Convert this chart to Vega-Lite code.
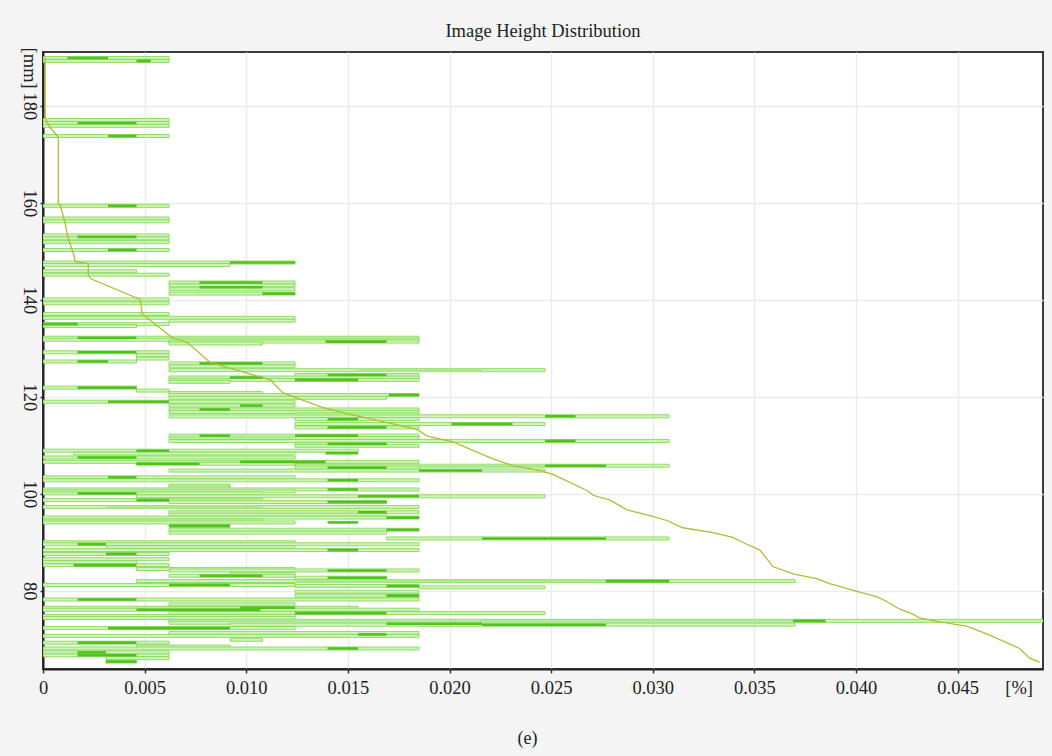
{
  "$schema": "https://vega.github.io/schema/vega-lite/v6.json",
  "width": 1000,
  "height": 617,
  "autosize": {"type": "none"},
  "padding": {"left": 43, "top": 52, "right": 9, "bottom": 87},
  "background": "#f4f4f4",
  "title": {"text": "Image Height Distribution", "font": "Liberation Serif", "fontSize": 18.5, "fontWeight": "normal", "color": "#222222", "offset": 7, "anchor": "middle"},
  "config": {
    "view": {"stroke": "#3a3a3a", "strokeWidth": 2, "fill": "white"},
    "axis": {
      "labelFont": "Liberation Serif", "labelFontSize": 18.5, "labelColor": "#222222",
      "titleFont": "Liberation Serif", "titleFontSize": 18, "titleFontWeight": "normal", "titleColor": "#222222",
      "domainColor": "#222222", "domainWidth": 2,
      "tickColor": "#333333", "tickSize": 4, "tickWidth": 1.5,
      "gridColor": "#ebebeb", "gridWidth": 1.5
    }
  },
  "datasets": {
    "segs": [
      {"h":189.9,"a":0,"b":0.0062,"t":"l"},{"h":189.3,"a":0,"b":0.0062,"t":"l"},
      {"h":177.1,"a":0,"b":0.0062,"t":"l"},{"h":176.5,"a":0,"b":0.0062,"t":"l"},
      {"h":175.9,"a":0,"b":0.0062,"t":"l"},{"h":173.8,"a":0,"b":0.0062,"t":"l"},
      {"h":159.4,"a":0,"b":0.0062,"t":"l"},{"h":156.8,"a":0,"b":0.0062,"t":"l"},
      {"h":156.2,"a":0,"b":0.0062,"t":"l"},{"h":153.3,"a":0,"b":0.0062,"t":"l"},
      {"h":152.7,"a":0,"b":0.0062,"t":"l"},{"h":151.9,"a":0,"b":0.0062,"t":"l"},
      {"h":150.3,"a":0,"b":0.0062,"t":"l"},{"h":147.7,"a":0,"b":0.0124,"t":"l"},
      {"h":147.2,"a":0,"b":0.0092,"t":"l"},{"h":145.9,"a":0,"b":0.0046,"t":"l"},
      {"h":145.2,"a":0,"b":0.0062,"t":"l"},{"h":143.6,"a":0.0062,"b":0.0124,"t":"l"},
      {"h":143.0,"a":0.0062,"b":0.0124,"t":"l"},{"h":142.2,"a":0.0062,"b":0.0124,"t":"l"},
      {"h":141.3,"a":0.0062,"b":0.0124,"t":"l"},{"h":140.1,"a":0,"b":0.0062,"t":"l"},
      {"h":139.3,"a":0,"b":0.0062,"t":"l"},{"h":137.1,"a":0,"b":0.0062,"t":"l"},
      {"h":136.3,"a":0,"b":0.0124,"t":"l"},{"h":135.7,"a":0.0062,"b":0.0124,"t":"l"},
      {"h":135.0,"a":0,"b":0.0062,"t":"l"},{"h":134.6,"a":0,"b":0.0046,"t":"l"},
      {"h":132.2,"a":0,"b":0.0185,"t":"l"},{"h":131.8,"a":0,"b":0.0185,"t":"l"},
      {"h":131.4,"a":0.0062,"b":0.0185,"t":"l"},{"h":131.0,"a":0.0062,"b":0.0108,"t":"l"},
      {"h":129.2,"a":0,"b":0.0062,"t":"l"},{"h":128.6,"a":0.0046,"b":0.0062,"t":"l"},
      {"h":127.9,"a":0.0046,"b":0.0062,"t":"l"},{"h":127.3,"a":0,"b":0.0046,"t":"l"},
      {"h":126.9,"a":0.0062,"b":0.0124,"t":"l"},{"h":126.3,"a":0.0062,"b":0.0124,"t":"l"},
      {"h":125.5,"a":0.0062,"b":0.0247,"t":"l"},{"h":124.5,"a":0.0124,"b":0.0185,"t":"l"},
      {"h":124.0,"a":0.0062,"b":0.0185,"t":"l"},{"h":123.5,"a":0.0062,"b":0.0185,"t":"l"},
      {"h":123.1,"a":0.0062,"b":0.0092,"t":"l"},{"h":121.9,"a":0,"b":0.0046,"t":"l"},
      {"h":121.3,"a":0.0046,"b":0.0062,"t":"l"},{"h":120.8,"a":0.0062,"b":0.0108,"t":"l"},
      {"h":120.4,"a":0.0062,"b":0.0185,"t":"l"},{"h":119.8,"a":0.0062,"b":0.0169,"t":"l"},
      {"h":119.0,"a":0,"b":0.0124,"t":"l"},{"h":118.2,"a":0.0062,"b":0.0124,"t":"l"},
      {"h":117.4,"a":0.0062,"b":0.0185,"t":"l"},{"h":116.9,"a":0.0062,"b":0.0185,"t":"l"},
      {"h":116.4,"a":0.0124,"b":0.0185,"t":"l"},{"h":116.0,"a":0.0062,"b":0.0308,"t":"l"},
      {"h":115.4,"a":0.0124,"b":0.0185,"t":"l"},{"h":114.4,"a":0.0124,"b":0.0247,"t":"l"},
      {"h":113.7,"a":0.0124,"b":0.0185,"t":"l"},{"h":112.0,"a":0.0062,"b":0.0185,"t":"l"},
      {"h":111.5,"a":0.0062,"b":0.0185,"t":"l"},{"h":110.9,"a":0.0062,"b":0.0308,"t":"l"},
      {"h":110.3,"a":0.0124,"b":0.0169,"t":"l"},{"h":109.9,"a":0.0124,"b":0.0185,"t":"l"},
      {"h":108.9,"a":0,"b":0.0155,"t":"l"},{"h":108.3,"a":0.0015,"b":0.0124,"t":"l"},
      {"h":107.5,"a":0,"b":0.0124,"t":"l"},{"h":106.6,"a":0,"b":0.0185,"t":"l"},
      {"h":106.2,"a":0.0046,"b":0.0124,"t":"l"},{"h":105.8,"a":0.0124,"b":0.0308,"t":"l"},
      {"h":105.4,"a":0.0124,"b":0.0185,"t":"l"},{"h":104.8,"a":0.0062,"b":0.0247,"t":"l"},
      {"h":103.4,"a":0,"b":0.0124,"t":"l"},{"h":102.8,"a":0,"b":0.0185,"t":"l"},
      {"h":101.7,"a":0.0062,"b":0.0092,"t":"l"},{"h":101.3,"a":0.0062,"b":0.0092,"t":"l"},
      {"h":100.9,"a":0,"b":0.0185,"t":"l"},{"h":100.5,"a":0,"b":0.0124,"t":"l"},
      {"h":100.1,"a":0,"b":0.0108,"t":"l"},{"h":99.5,"a":0.0046,"b":0.0247,"t":"l"},
      {"h":98.7,"a":0,"b":0.0108,"t":"l"},{"h":98.3,"a":0.0062,"b":0.0169,"t":"l"},
      {"h":97.3,"a":0,"b":0.0185,"t":"l"},{"h":96.2,"a":0.0062,"b":0.0185,"t":"l"},
      {"h":95.7,"a":0.0062,"b":0.0169,"t":"l"},{"h":95.1,"a":0,"b":0.0185,"t":"l"},
      {"h":94.5,"a":0,"b":0.0108,"t":"l"},{"h":94.1,"a":0,"b":0.0124,"t":"l"},
      {"h":93.4,"a":0.0062,"b":0.0092,"t":"l"},{"h":92.6,"a":0.0062,"b":0.0185,"t":"l"},
      {"h":92.0,"a":0.0062,"b":0.0169,"t":"l"},{"h":90.8,"a":0.0169,"b":0.0308,"t":"l"},
      {"h":90.0,"a":0,"b":0.0124,"t":"l"},{"h":89.6,"a":0,"b":0.0185,"t":"l"},
      {"h":89.0,"a":0.0031,"b":0.0124,"t":"l"},{"h":88.4,"a":0,"b":0.0185,"t":"l"},
      {"h":87.6,"a":0,"b":0.0062,"t":"l"},{"h":86.5,"a":0,"b":0.0062,"t":"l"},
      {"h":85.9,"a":0,"b":0.0046,"t":"l"},{"h":85.3,"a":0,"b":0.0062,"t":"l"},
      {"h":84.5,"a":0.0046,"b":0.0124,"t":"l"},{"h":84.2,"a":0.0062,"b":0.0185,"t":"l"},
      {"h":83.5,"a":0.0092,"b":0.0124,"t":"l"},{"h":83.1,"a":0.0062,"b":0.0124,"t":"l"},
      {"h":82.7,"a":0.0124,"b":0.0169,"t":"l"},{"h":82.0,"a":0.0046,"b":0.037,"t":"l"},
      {"h":81.2,"a":0,"b":0.0124,"t":"l"},{"h":81.0,"a":0.0124,"b":0.0185,"t":"l"},
      {"h":80.7,"a":0.0185,"b":0.0247,"t":"l"},{"h":79.8,"a":0.0124,"b":0.0185,"t":"l"},
      {"h":79.0,"a":0.0124,"b":0.0185,"t":"l"},{"h":78.2,"a":0,"b":0.0185,"t":"l"},
      {"h":77.2,"a":0.0062,"b":0.0124,"t":"l"},{"h":76.5,"a":0,"b":0.0155,"t":"l"},
      {"h":76.1,"a":0,"b":0.0185,"t":"l"},{"h":75.4,"a":0.0062,"b":0.0247,"t":"l"},
      {"h":74.8,"a":0,"b":0.0124,"t":"l"},{"h":74.4,"a":0,"b":0.0124,"t":"l"},
      {"h":73.8,"a":0.0062,"b":0.0492,"t":"l"},{"h":73.4,"a":0.0062,"b":0.037,"t":"l"},
      {"h":73.0,"a":0.0092,"b":0.037,"t":"l"},{"h":72.3,"a":0,"b":0.0124,"t":"l"},
      {"h":71.3,"a":0.0062,"b":0.0185,"t":"l"},{"h":70.7,"a":0,"b":0.0185,"t":"l"},
      {"h":69.9,"a":0.0092,"b":0.0108,"t":"l"},{"h":69.3,"a":0,"b":0.0062,"t":"l"},
      {"h":68.5,"a":0.0046,"b":0.0092,"t":"l"},{"h":68.1,"a":0,"b":0.0185,"t":"l"},
      {"h":67.3,"a":0,"b":0.0062,"t":"l"},{"h":66.7,"a":0,"b":0.0062,"t":"l"},
      {"h":66.1,"a":0.0031,"b":0.0062,"t":"l"},{"h":65.4,"a":0.0031,"b":0.0046,"t":"l"},

      {"h":125.5,"a":0.0155,"b":0.0216,"t":"m"},{"h":116.4,"a":0.0124,"b":0.0185,"t":"m"},
      {"h":105.8,"a":0.0185,"b":0.0247,"t":"m"},{"h":97.3,"a":0.0031,"b":0.0108,"t":"m"},
      {"h":82.0,"a":0.0124,"b":0.0277,"t":"m"},{"h":73.5,"a":0.0124,"b":0.037,"t":"m"},
      {"h":111.7,"a":0.0062,"b":0.0124,"t":"m"},{"h":100.5,"a":0,"b":0.0077,"t":"m"},

      {"h":189.9,"a":0.0012,"b":0.0032,"t":"d"},{"h":189.3,"a":0.0046,"b":0.0053,"t":"d"},
      {"h":176.5,"a":0.0017,"b":0.0046,"t":"d"},{"h":173.8,"a":0.0032,"b":0.0046,"t":"d"},
      {"h":159.4,"a":0.0032,"b":0.0046,"t":"d"},{"h":153.0,"a":0.0017,"b":0.0046,"t":"d"},
      {"h":150.3,"a":0.0032,"b":0.0046,"t":"d"},{"h":147.7,"a":0.0092,"b":0.0124,"t":"d"},
      {"h":143.6,"a":0.0077,"b":0.0108,"t":"d"},{"h":142.6,"a":0.0077,"b":0.0108,"t":"d"},
      {"h":141.3,"a":0.0108,"b":0.0124,"t":"d"},{"h":135.0,"a":0,"b":0.0017,"t":"d"},
      {"h":132.2,"a":0.0017,"b":0.0046,"t":"d"},{"h":131.4,"a":0.0139,"b":0.0169,"t":"d"},
      {"h":129.2,"a":0.0017,"b":0.0046,"t":"d"},{"h":127.3,"a":0.0017,"b":0.0032,"t":"d"},
      {"h":126.9,"a":0.0077,"b":0.0108,"t":"d"},{"h":124.5,"a":0.014,"b":0.0169,"t":"d"},
      {"h":124.0,"a":0.0092,"b":0.0108,"t":"d"},{"h":123.5,"a":0.0124,"b":0.0155,"t":"d"},
      {"h":121.9,"a":0.0017,"b":0.0046,"t":"d"},{"h":120.4,"a":0.017,"b":0.0185,"t":"d"},
      {"h":119.0,"a":0.0032,"b":0.0062,"t":"d"},{"h":118.2,"a":0.0097,"b":0.0108,"t":"d"},
      {"h":117.4,"a":0.0077,"b":0.0092,"t":"d"},{"h":116.0,"a":0.0247,"b":0.0262,"t":"d"},
      {"h":115.4,"a":0.014,"b":0.0155,"t":"d"},{"h":114.4,"a":0.0201,"b":0.0231,"t":"d"},
      {"h":113.7,"a":0.014,"b":0.0169,"t":"d"},{"h":112.0,"a":0.0124,"b":0.0155,"t":"d"},
      {"h":112.0,"a":0.0077,"b":0.0092,"t":"d"},{"h":110.9,"a":0.0247,"b":0.0262,"t":"d"},
      {"h":110.3,"a":0.014,"b":0.0169,"t":"d"},{"h":108.9,"a":0.0046,"b":0.0062,"t":"d"},
      {"h":108.4,"a":0.0139,"b":0.0155,"t":"d"},{"h":107.5,"a":0.0017,"b":0.0046,"t":"d"},
      {"h":106.6,"a":0.0097,"b":0.0139,"t":"d"},{"h":106.2,"a":0.0046,"b":0.0077,"t":"d"},
      {"h":105.8,"a":0.0247,"b":0.0277,"t":"d"},{"h":105.4,"a":0.014,"b":0.0169,"t":"d"},
      {"h":104.8,"a":0.0185,"b":0.0216,"t":"d"},{"h":103.4,"a":0.0032,"b":0.0046,"t":"d"},
      {"h":102.8,"a":0.014,"b":0.0155,"t":"d"},{"h":100.9,"a":0.014,"b":0.0155,"t":"d"},
      {"h":100.1,"a":0.0017,"b":0.0046,"t":"d"},{"h":99.5,"a":0.0155,"b":0.0185,"t":"d"},
      {"h":98.7,"a":0.0046,"b":0.0062,"t":"d"},{"h":98.3,"a":0.014,"b":0.0169,"t":"d"},
      {"h":96.2,"a":0.0155,"b":0.0169,"t":"d"},{"h":95.1,"a":0.0169,"b":0.0185,"t":"d"},
      {"h":94.1,"a":0.014,"b":0.0155,"t":"d"},{"h":93.4,"a":0.0062,"b":0.0092,"t":"d"},
      {"h":92.6,"a":0.0169,"b":0.0185,"t":"d"},{"h":90.8,"a":0.0216,"b":0.0277,"t":"d"},
      {"h":89.6,"a":0.0017,"b":0.0031,"t":"d"},{"h":88.4,"a":0.014,"b":0.0155,"t":"d"},
      {"h":87.6,"a":0.0031,"b":0.0046,"t":"d"},{"h":85.3,"a":0.0015,"b":0.0046,"t":"d"},
      {"h":84.2,"a":0.014,"b":0.0169,"t":"d"},{"h":83.1,"a":0.0077,"b":0.0108,"t":"d"},
      {"h":82.7,"a":0.014,"b":0.0169,"t":"d"},{"h":82.0,"a":0.0277,"b":0.0308,"t":"d"},
      {"h":81.2,"a":0.0062,"b":0.0092,"t":"d"},{"h":81.0,"a":0.0169,"b":0.0185,"t":"d"},
      {"h":79.0,"a":0.0169,"b":0.0185,"t":"d"},{"h":78.2,"a":0.0017,"b":0.0046,"t":"d"},
      {"h":76.5,"a":0.0097,"b":0.0124,"t":"d"},{"h":76.1,"a":0.0046,"b":0.0107,"t":"d"},
      {"h":75.4,"a":0.0124,"b":0.0169,"t":"d"},{"h":73.8,"a":0.0369,"b":0.0385,"t":"d"},
      {"h":73.2,"a":0.0169,"b":0.0216,"t":"d"},{"h":73.0,"a":0.0216,"b":0.0277,"t":"d"},
      {"h":72.3,"a":0.0032,"b":0.0092,"t":"d"},{"h":71.0,"a":0.0155,"b":0.0169,"t":"d"},
      {"h":69.3,"a":0.0017,"b":0.0046,"t":"d"},{"h":68.1,"a":0.014,"b":0.0155,"t":"d"},
      {"h":67.3,"a":0.0017,"b":0.0031,"t":"d"},{"h":66.7,"a":0.0017,"b":0.0046,"t":"d"},
      {"h":65.4,"a":0.0031,"b":0.0046,"t":"d"}
    ],
    "curve": [
      {"a":0.00011,"h":190.1},{"a":0.00011,"h":177.3},{"a":0.00036,"h":175.5},{"a":0.00075,"h":173.6},
      {"a":0.00075,"h":160.0},{"a":0.00085,"h":159.4},{"a":0.00095,"h":158.0},{"a":0.0011,"h":155.6},
      {"a":0.0012,"h":153.3},{"a":0.00154,"h":148.9},{"a":0.00159,"h":147.9},{"a":0.00223,"h":147.5},
      {"a":0.00223,"h":145.2},{"a":0.00233,"h":144.4},{"a":0.00478,"h":140.1},{"a":0.00488,"h":137.1},
      {"a":0.00636,"h":132.2},{"a":0.0071,"h":131.2},{"a":0.00822,"h":127.1},{"a":0.0097,"h":125.3},
      {"a":0.01118,"h":123.5},{"a":0.01181,"h":120.8},{"a":0.01378,"h":117.8},{"a":0.01511,"h":116.4},
      {"a":0.01673,"h":114.9},{"a":0.0184,"h":113.3},{"a":0.0189,"h":111.9},{"a":0.02017,"h":110.7},
      {"a":0.02214,"h":107.2},{"a":0.02312,"h":105.8},{"a":0.02445,"h":104.8},{"a":0.02509,"h":104.0},
      {"a":0.02676,"h":100.7},{"a":0.02706,"h":99.7},{"a":0.0279,"h":98.7},{"a":0.02873,"h":96.7},
      {"a":0.02986,"h":95.5},{"a":0.03069,"h":94.5},{"a":0.03148,"h":93.0},{"a":0.03296,"h":92.0},
      {"a":0.03394,"h":91.0},{"a":0.03463,"h":89.6},{"a":0.03527,"h":88.4},{"a":0.03591,"h":85.0},
      {"a":0.03689,"h":83.5},{"a":0.03807,"h":82.5},{"a":0.03871,"h":81.5},{"a":0.04004,"h":79.9},
      {"a":0.04102,"h":78.8},{"a":0.04151,"h":77.8},{"a":0.04215,"h":76.2},{"a":0.04279,"h":75.2},
      {"a":0.04313,"h":74.4},{"a":0.04412,"h":73.6},{"a":0.04544,"h":72.7},{"a":0.04643,"h":71.1},
      {"a":0.04741,"h":69.3},{"a":0.04805,"h":68.1},{"a":0.04854,"h":66.1},{"a":0.04903,"h":65.3}
    ]
  },
  "encoding": {
    "x": {
      "field": "a", "type": "quantitative",
      "scale": {"domain": [0, 0.0492], "nice": false, "zero": false},
      "axis": {
        "title": "(e)", "titleX": 484, "titlePadding": 33,
        "values": [0, 0.005, 0.01, 0.015, 0.02, 0.025, 0.03, 0.035, 0.04, 0.045, 0.048],
        "labelExpr": "datum.value > 0.0475 ? '[%]' : (datum.value == 0 ? '0' : format(datum.value, '.3f'))",
        "labelPadding": 5, "labelFlush": false,
        "tickOpacity": {"condition": {"test": "datum.value > 0.0475", "value": 0}, "value": 1},
        "gridOpacity": {"condition": {"test": "datum.value > 0.0475 || datum.value == 0", "value": 0}, "value": 1}
      }
    },
    "y": {
      "field": "h", "type": "quantitative",
      "scale": {"domain": [64.9, 190.1], "nice": false, "zero": false},
      "axis": {
        "title": null,
        "values": [80, 100, 120, 140, 160, 180, 187.9],
        "labelExpr": "datum.value > 185 ? '[mm]' : datum.label",
        "labelAngle": 90, "labelAlign": "center", "labelBaseline": "top",
        "labelPadding": 2, "tickSize": 3, "labelFlush": false,
        "tickOpacity": {"condition": {"test": "datum.value > 185", "value": 0}, "value": 1},
        "gridOpacity": {"condition": {"test": "datum.value > 185", "value": 0}, "value": 1}
      }
    }
  },
  "layer": [
    {
      "data": {"name": "segs"},
      "transform": [{"filter": "datum.t === 'l'"}],
      "mark": {"type": "bar", "orient": "horizontal", "size": 3, "fill": "#cff3b8", "stroke": "#86da58", "strokeWidth": 0.9, "clip": true},
      "encoding": {"x2": {"field": "b"}}
    },
    {
      "data": {"name": "segs"},
      "transform": [{"filter": "datum.t === 'm'"}],
      "mark": {"type": "bar", "orient": "horizontal", "size": 3, "fill": "#ace98b", "clip": true},
      "encoding": {"x2": {"field": "b"}}
    },
    {
      "data": {"name": "segs"},
      "transform": [{"filter": "datum.t === 'd'"}],
      "mark": {"type": "bar", "orient": "horizontal", "size": 2.6, "fill": "#52c21f", "clip": true},
      "encoding": {"x2": {"field": "b"}}
    },
    {
      "data": {"name": "curve"},
      "mark": {"type": "line", "color": "#b2bc34", "strokeWidth": 1.3, "clip": true},
      "encoding": {"order": {"field": "h", "sort": "descending"}}
    }
  ]
}
